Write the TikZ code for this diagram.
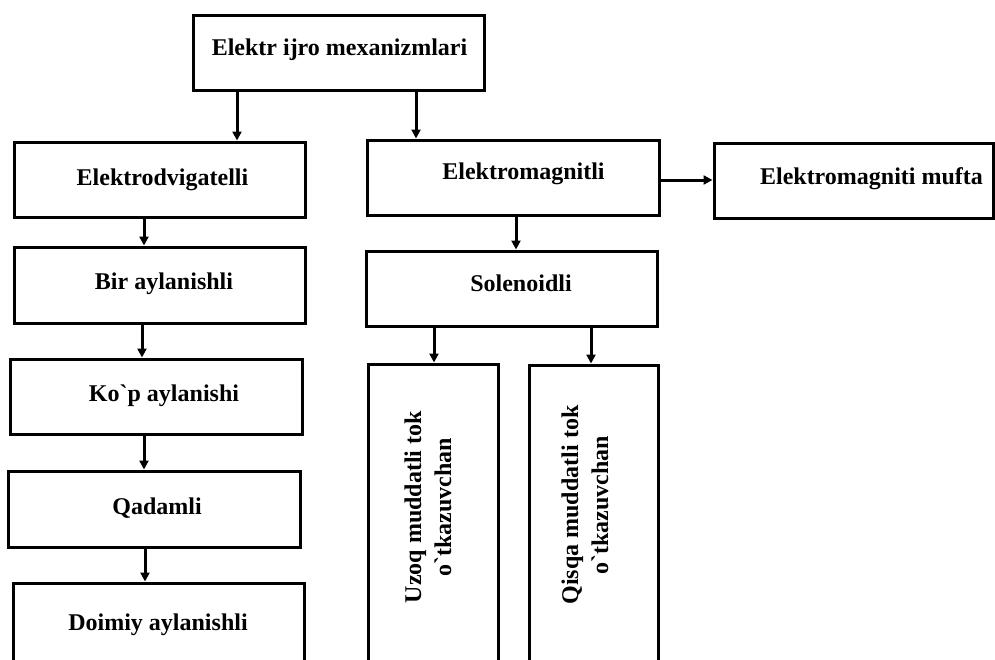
\documentclass[tikz,border=0pt]{standalone}
\usepackage{fontspec}
\setmainfont{Liberation Serif}[Ligatures=TeXOff]
\usetikzlibrary{arrows.meta}
\newcommand{\gr}{\symbol{96}}
\tikzset{
  box/.style={draw=black, line width=3pt, rectangle, inner sep=0pt, anchor=center},
  lbl/.style={anchor=base, inner sep=0pt, font=\bfseries\fontsize{24}{30}\selectfont},
  vlbl/.style={anchor=center, inner sep=0pt, rotate=90, align=center, font=\bfseries\fontsize{24}{30}\selectfont},
  arr/.style={draw=black, line width=3pt, -{Triangle[length=9pt,width=9pt]}}
}
\begin{document}
\begin{tikzpicture}[x=1pt,y=-1pt]
\useasboundingbox (0,0) rectangle (995,659);
\clip (0,0) rectangle (995,659);
% boxes
\node[box, minimum width=291pt, minimum height=75pt] (top) at (338.5,52.5) {};
\node[box, minimum width=291pt, minimum height=75pt] (ed) at (159.5,179.5) {};
\node[box, minimum width=291pt, minimum height=76pt] (bir) at (159.5,285) {};
\node[box, minimum width=292pt, minimum height=75pt] (kop) at (156,396.5) {};
\node[box, minimum width=292pt, minimum height=76pt] (qad) at (154,509) {};
\node[box, minimum width=291pt, minimum height=117pt] (doi) at (158.5,641.5) {};
\node[box, minimum width=292pt, minimum height=75pt] (em) at (513,177.5) {};
\node[box, minimum width=279pt, minimum height=75pt] (muf) at (853.5,180.5) {};
\node[box, minimum width=291pt, minimum height=75pt] (sol) at (511.5,288.5) {};
\node[box, minimum width=130pt, minimum height=336pt] (uz) at (433,532) {};
\node[box, minimum width=129pt, minimum height=335pt] (qi) at (593.5,532.5) {};
% labels
\node[lbl] (top-t) at (339.5,55) {Elektr ijro mexanizmlari};
\node[lbl] (ed-t) at (162.5,185.7) {Elektrodvigatelli};
\node[lbl] (bir-t) at (164,289) {Bir aylanishli};
\node[lbl] (kop-t) at (164,401) {Ko\gr p aylanishi};
\node[lbl] (qad-t) at (157,514) {Qadamli};
\node[lbl] (doi-t) at (158,630) {Doimiy aylanishli};
\node[lbl] (em-t) at (523.5,179) {Elektromagnitli};
\node[lbl] (muf-t) at (871.5,184) {Elektromagniti mufta};
\node[lbl] (sol-t) at (521,291) {Solenoidli};
\node[vlbl] (uz-t) at (428,507) {Uzoq muddatli tok\\o\gr tkazuvchan};
\node[vlbl] (qi-t) at (585,505) {Qisqa muddatli tok\\o\gr tkazuvchan};
% connectors
\draw[arr] ([xshift=-101.5pt]top.south) coordinate (c1) -- (c1 |- ed.north);
\draw[arr] ([xshift=77.5pt]top.south) coordinate (c2) -- (c2 |- em.north);
\draw[arr] ([xshift=-15.5pt]ed.south) coordinate (c3) -- (c3 |- bir.north);
\draw[arr] ([xshift=-17.5pt]bir.south) coordinate (c4) -- (c4 |- kop.north);
\draw[arr] ([xshift=-12pt]kop.south) coordinate (c5) -- (c5 |- qad.north);
\draw[arr] ([xshift=-9pt]qad.south) coordinate (c6) -- (c6 |- doi.north);
\draw[arr] ([yshift=-2.5pt]em.east) coordinate (c7) -- (c7 -| muf.west);
\draw[arr] ([xshift=3pt]em.south) coordinate (c8) -- (c8 |- sol.north);
\draw[arr] ([xshift=-77.5pt]sol.south) coordinate (c9) -- (c9 |- uz.north);
\draw[arr] ([xshift=79.5pt]sol.south) coordinate (c10) -- (c10 |- qi.north);
\end{tikzpicture}
\end{document}
